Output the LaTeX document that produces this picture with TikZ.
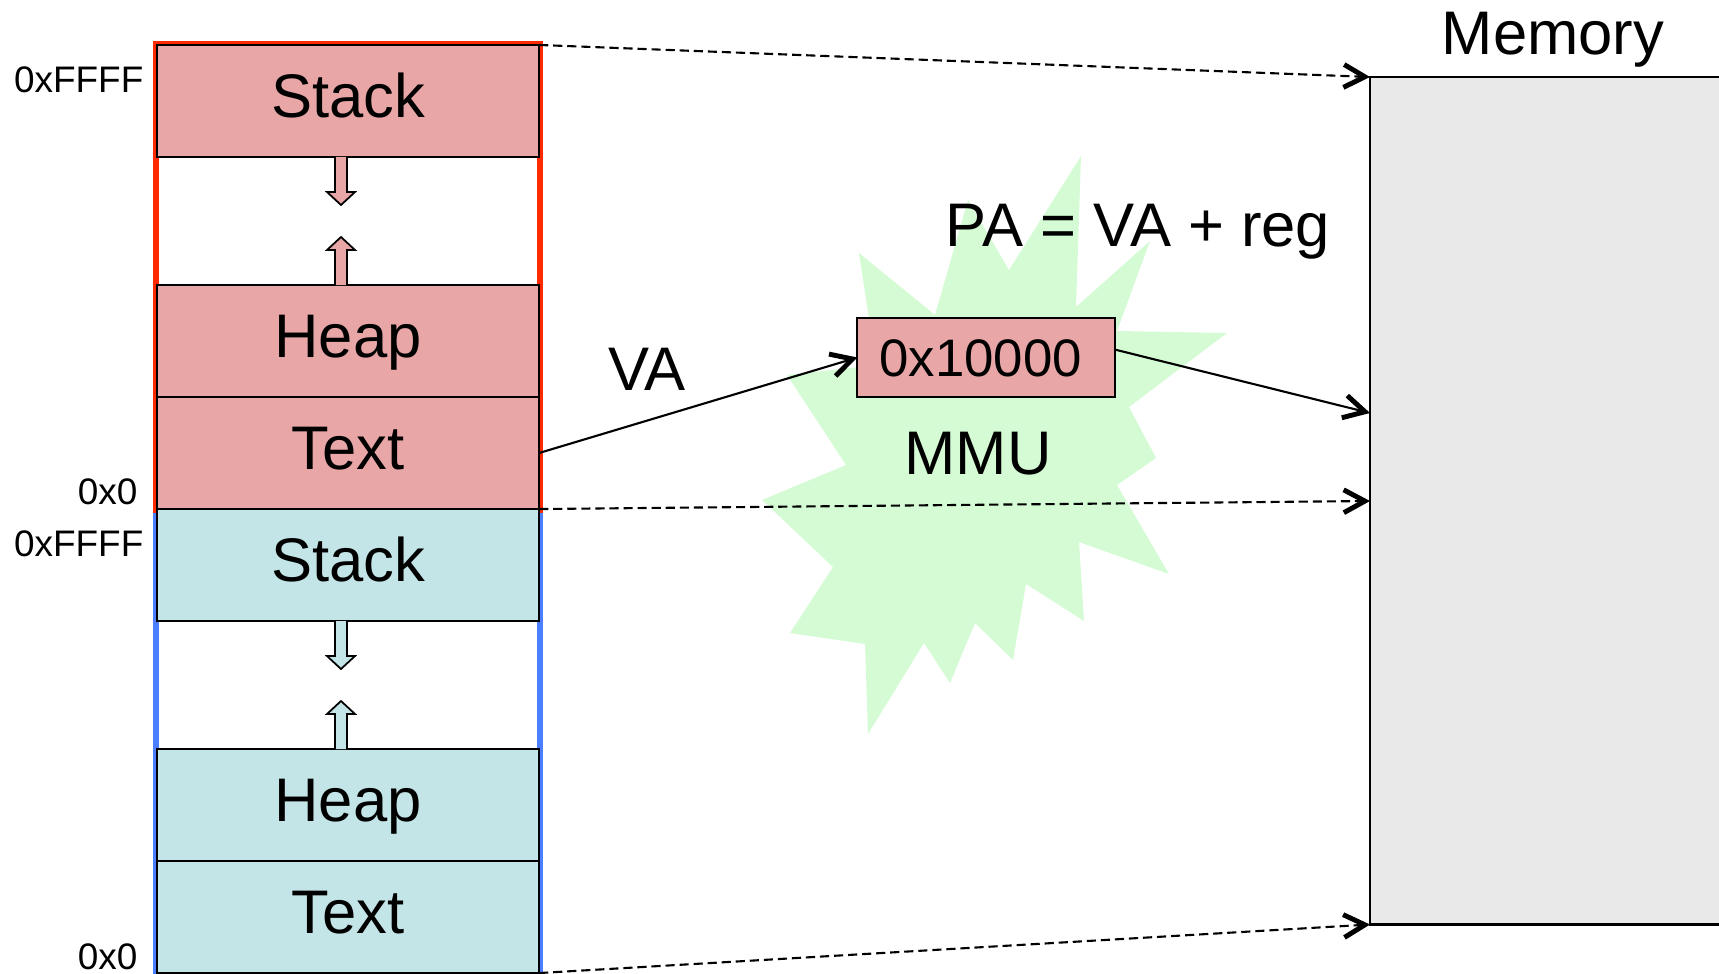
\documentclass[tikz,border=0pt]{standalone}
\usepackage{fontspec}
\setmainfont{Liberation Sans}
\usetikzlibrary{arrows.meta}

\definecolor{segred}{HTML}{E8A6A7}
\definecolor{segblue}{HTML}{C4E5E7}
\definecolor{framered}{HTML}{FF2A00}
\definecolor{frameblue}{HTML}{4A80FF}
\definecolor{mmugreen}{HTML}{D4FBD4}
\definecolor{memgray}{HTML}{E9E9E9}

\tikzset{
  seg/.style={draw, line width=0.6pt, minimum width=3.82cm, minimum height=1.12cm,
    inner sep=0pt, outer sep=0pt, font=\fontsize{17.5}{20}\selectfont,
    text height=12.5pt, text depth=3pt},
  segA/.style={seg, fill=segred},
  segB/.style={seg, fill=segblue},
  addr/.style={anchor=east, inner sep=0pt, font=\fontsize{10.5}{12}\selectfont,
    text height=7.5pt, text depth=0pt},
  biglabel/.style={inner sep=0pt, font=\fontsize{17.5}{20}\selectfont,
    text height=12.5pt, text depth=0pt},
  growarrow/.style={draw, line width=0.5pt},
  mapline/.style={line width=0.6pt, dash pattern=on 2.6pt off 1.4pt,
    -{Straight Barb[length=6pt,width=6.5pt,line width=1.4pt]}},
  xlate/.style={line width=0.6pt,
    -{Straight Barb[length=6pt,width=6.5pt,line width=1.4pt]}},
}

\begin{document}
\begin{tikzpicture}[x=0.01cm,y=-0.01cm]
\useasboundingbox (0,0) rectangle (1719,973);

% mmu
\fill[mmugreen] (1081,156) -- (1076,307) -- (1150,241) -- (1117,331) -- (1227,333)
  -- (1129,407) -- (1156,458) -- (1117,485) -- (1169,574) -- (1079,542)
  -- (1084,621) -- (1026,584) -- (1013,660) -- (975,623) -- (950,683)
  -- (924,643) -- (868,734) -- (865,644) -- (790,633) -- (833,567)
  -- (762,500) -- (846,465) -- (787,375) -- (876,365) -- (859,253)
  -- (935,315) -- (968,200) -- (1009,270) -- cycle;

% molduras
\draw[frameblue, line width=1.8pt] (156,511) rectangle (540,995);
\draw[framered, line width=1.8pt] (156,44) rectangle (540,510);

% processo A
\node[segA] (stackA) at (348,101) {Stack};
\node[segA] (heapA) at (348,341) {Heap};
\node[segA] (textA) at (348,453) {Text};

% processo B
\node[segB] (stackB) at (348,565) {Stack};
\node[segB] (heapB) at (348,805) {Heap};
\node[segB] (textB) at (348,917) {Text};

% setas de crescimento
\foreach \y/\s/\c in {157/1/segred, 285/-1/segred, 621/1/segblue, 749/-1/segblue}
  \filldraw[growarrow, fill=\c] (335,\y) -- (335,{\y+35*\s}) -- (327,{\y+35*\s})
    -- (341,{\y+48*\s}) -- (355,{\y+35*\s}) -- (347,{\y+35*\s}) -- (347,\y);

% enderecos
\node[addr] (hiA) at (144,79) {0xFFFF};
\node[addr] (loA) at (138,491) {0x0};
\node[addr] (hiB) at (144,543) {0xFFFF};
\node[addr] (loB) at (138,956) {0x0};

% memoria
\node[draw, fill=memgray, line width=0.6pt, anchor=north west, inner sep=0pt,
  outer sep=0pt, minimum width=3.7cm, minimum height=8.47cm] (mem) at (1370,77) {};
\node[biglabel] (memlbl) at (1553,33) {Memory};
\coordinate (memva) at (1370,413);
\coordinate (memB) at (1370,501);

% registrador
\node[segA, minimum width=2.57cm, minimum height=0.79cm,
  font=\fontsize{15}{18}\selectfont, text height=10.7pt, text depth=0pt,
  text width=2.13cm] (reg) at (986,357.5) {0x10000};
\node[biglabel] (mmu) at (978,453) {MMU};
\node[biglabel] (va) at (647,369) {VA};
\node[biglabel] (pa) at (1138,225) {PA = VA + reg};

% traducao
\draw[xlate] (textA.east) -- (reg.west);
\draw[xlate] ([yshift=0.08cm]reg.east) -- (memva);

\draw[mapline] (stackA.north east) -- (mem.north west);
\draw[mapline] (textA.south east) -- (memB);
\draw[mapline] (textB.south east) -- (mem.south west);

\end{tikzpicture}
\end{document}
